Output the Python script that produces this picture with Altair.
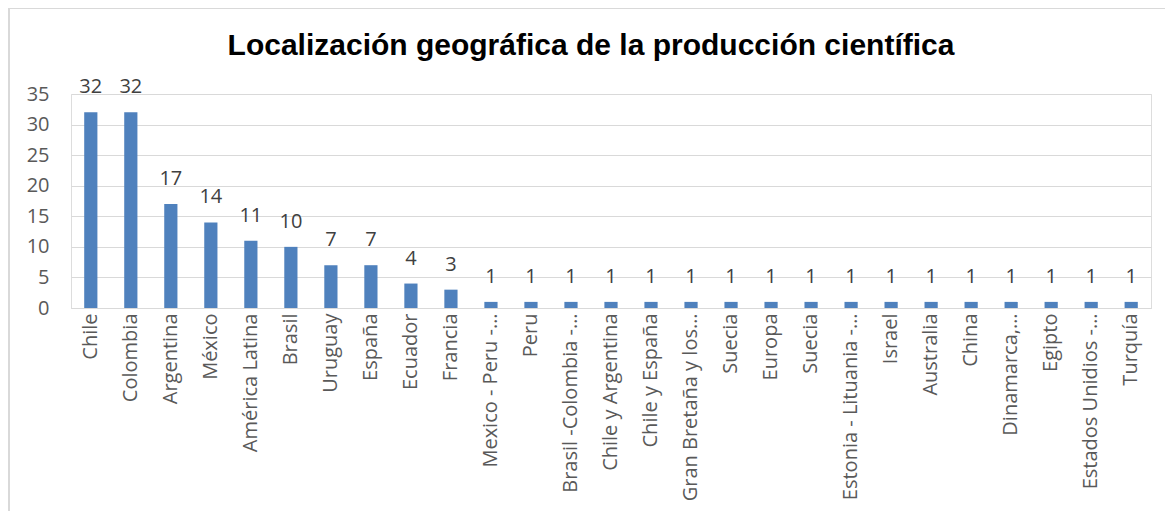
import altair as alt
import pandas as pd

title_text = "Localización geográfica de la producción científica"
categories = ["Chile", "Colombia", "Argentina", "México", "América Latina", "Brasil",
              "Uruguay", "España", "Ecuador", "Francia", "Mexico - Peru -…", "Peru",
              "Brasil -Colombia -…", "Chile y Argentina", "Chile y España",
              "Gran Bretaña y los…", "Suecia", "Europa", "Suecia ", "Estonia - Lituania -…",
              "Israel", "Australia", "China", "Dinamarca,…", "Egipto", "Estados Unidios -…",
              "Turquía"]
values = [32, 32, 17, 14, 11, 10, 7, 7, 4, 3, 1, 1, 1, 1, 1, 1, 1, 1, 1, 1, 1, 1, 1, 1, 1, 1, 1]
y_ticks = [0, 5, 10, 15, 20, 25, 30, 35]

df = pd.DataFrame({"pais": categories, "n": values})

FONT = "Open Sans"
GRAY = "#595959"

base = alt.Chart(df).encode(
    x=alt.X("pais:N", sort=categories, title=None,
            scale=alt.Scale(paddingInner=0.67, paddingOuter=0.33),
            axis=alt.Axis(labelAngle=-90, labelAlign="right", labelBaseline="middle",
                          labelFontSize=20, labelColor=GRAY, labelFont=FONT,
                          ticks=False, domainColor="#d9d9d9", labelPadding=5,
                          labelLimit=300)),
    y=alt.Y("n:Q", title=None,
            scale=alt.Scale(domain=[0, 35], nice=False),
            axis=alt.Axis(values=y_ticks, labelFontSize=20, labelColor=GRAY, labelFont=FONT,
                          domain=False, ticks=False, gridColor="#d9d9d9", labelPadding=22)),
)

bars = base.mark_bar(color="#4f81bd")
labels = base.mark_text(dy=-25, fontSize=20, color="#404040", font=FONT).encode(text="n:Q")

frame_df = pd.DataFrame({"t": [title_text]})
frame_top = alt.Chart(frame_df).mark_rule(color="#d9d9d9", strokeWidth=2).encode(
    x=alt.value(-62), x2=alt.value(1100), y=alt.value(-86))
frame_left = alt.Chart(frame_df).mark_rule(color="#d9d9d9", strokeWidth=2).encode(
    x=alt.value(-62), y=alt.value(-86), y2=alt.value(420))
title = alt.Chart(frame_df).mark_text(
    fontSize=30, font="Liberation Sans", fontWeight="bold", color="#000000",
    align="center", baseline="alphabetic").encode(
    text="t:N", x=alt.value(520), y=alt.value(-39))

chart = (frame_top + frame_left + title + bars + labels).properties(
    width=1080, height=214,
    autosize=alt.AutoSizeParams(type="none"),
    padding={"left": 63, "top": 86, "right": 14, "bottom": 203},
).configure_view(stroke=None).configure(background="white")

chart.save("out.html", embed_options={"renderer": "svg", "actions": False})
